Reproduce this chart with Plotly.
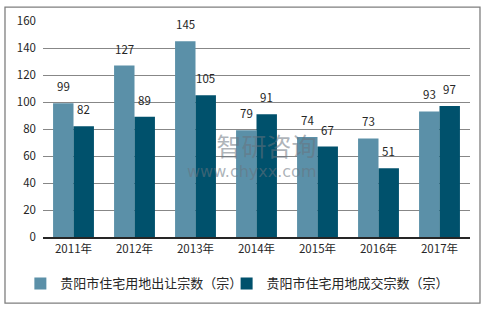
import plotly.graph_objects as go

years = ["2011年", "2012年", "2013年", "2014年", "2015年", "2016年", "2017年"]
transfer = [99, 127, 145, 79, 74, 73, 93]
deals = [82, 89, 105, 91, 67, 51, 97]
name_transfer = "贵阳市住宅用地出让宗数（宗）"
name_deals = "贵阳市住宅用地成交宗数（宗）"

c1 = "#5B90A8"
c2 = "#00516C"
font = "Noto Sans CJK SC, Noto Sans, sans-serif"

fig = go.Figure()
fig.add_bar(x=years, y=transfer, name=name_transfer, marker_color=c1, marker_line_width=0,
            legend="legend")
fig.add_bar(x=years, y=deals, name=name_deals, marker_color=c2, marker_line_width=0,
            legend="legend2")

ann = []
for i, y in enumerate(years):
    for v, dx in ((transfer[i], -10.3), (deals[i], 10.3)):
        ann.append(dict(x=y, y=v, text=str(v), showarrow=False, xshift=dx, yshift=7,
                        yanchor="bottom", font=dict(size=11.5, color="#262626", family=font)))

# watermark (single block)
ann.append(dict(xref="paper", yref="paper", x=0.644, xanchor="right", y=0.385, yanchor="middle",
                align="right", showarrow=False,
                text="<span style='font-size:25px'>智研咨询</span><br>"
                     "<span style='font-size:16px;font-family:DejaVu Sans'>www.chyxx.com</span>",
                font=dict(size=16, color="rgba(105,115,125,0.55)", family=font)))

leg_common = dict(orientation="h", xanchor="left", y=-0.215, yanchor="middle",
                  font=dict(size=13, color="#262626", family=font), itemwidth=30,
                  bgcolor="rgba(0,0,0,0)")

fig.update_layout(
    width=488, height=310,
    margin=dict(l=43, r=18, t=19, b=72),
    paper_bgcolor="white", plot_bgcolor="white",
    barmode="group", bargap=0.33, bargroupgap=0,
    font=dict(family=font, size=11.5, color="#262626"),
    annotations=ann,
    showlegend=True,
    legend=dict(x=-0.053, **leg_common),
    legend2=dict(x=0.43, **leg_common),
    xaxis=dict(showline=True, linecolor="#262626", linewidth=1.5, ticks="", tickfont=dict(size=11.5)),
    yaxis=dict(range=[0, 160], dtick=20, showgrid=True, gridcolor="#878787", gridwidth=1,
               zeroline=False, showline=False, ticks="", tickfont=dict(size=11.5), ticklabelstandoff=6),
    shapes=[dict(type="rect", xref="paper", yref="paper", x0=-0.089, x1=1.0234, y0=-0.306, y1=1.064,
                 line=dict(color="#7F7F7F", width=1.3), fillcolor="rgba(0,0,0,0)")],
)

fig.write_html("out.html")
